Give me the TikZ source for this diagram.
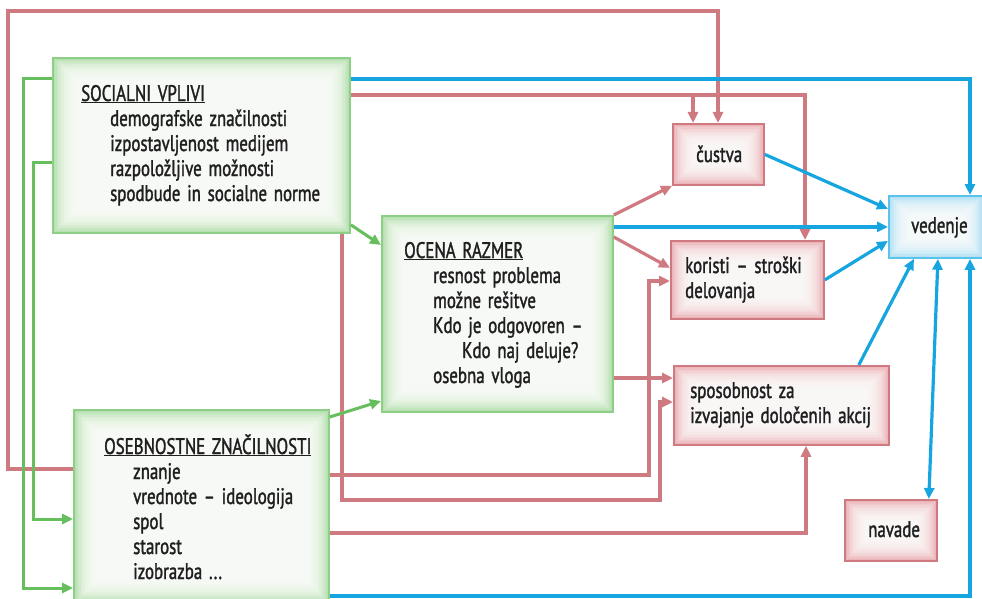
\documentclass[tikz,border=0pt]{standalone}
\usepackage{fontspec}
\setmainfont[FakeStretch=0.75, WordSpace=1.5, FakeBold=1.4]{PT Sans}
\usetikzlibrary{arrows.meta}
\definecolor{grn}{HTML}{66BE5C}
\definecolor{grnbd}{HTML}{8DCF86}
\definecolor{grnfill}{HTML}{A8DB9F}
\definecolor{rd}{HTML}{CF7A81}
\definecolor{rdfill}{HTML}{E8A6AC}
\definecolor{bl}{HTML}{16A5DE}
\definecolor{blbd}{HTML}{5BC2EA}
\definecolor{blfill}{HTML}{A8DDF4}
\pgfdeclarelayer{bg}
\pgfsetlayers{bg,main}
\tikzset{
  boxbase/.style={anchor=north west, inner sep=0pt, line width=1.8pt},
  gbox/.style={boxbase, draw=grnbd},
  rbox/.style={boxbase, draw=rd},
  bbox/.style={boxbase, draw=blbd},
  tip/.style={-{Triangle[length=11pt,width=10pt]}},
  rarr/.style={draw=rd, line width=3.2pt, tip},
  barr/.style={draw=bl, line width=3.2pt, tip},
  garr/.style={draw=grn, line width=3pt, tip},
  txt/.style={inner sep=0pt, align=left, text=black!88, font={\fontsize{22.5pt}{25pt}\selectfont}},
}
\newcommand{\ind}{\hspace*{29pt}}
\begin{document}
\begin{tikzpicture}[x=1pt, y=-1pt]
\useasboundingbox (0,0) rectangle (982,599);

% boxes
\node[gbox, minimum width=297pt, minimum height=175pt] (sv) at (52,57) {};
\node[gbox, minimum width=231pt, minimum height=196pt] (or) at (381,215) {};
\node[gbox, minimum width=255pt, minimum height=193pt] (oz) at (73,409) {};
\node[rbox, minimum width=91pt, minimum height=61pt] (cu) at (672,123) {};
\node[rbox, minimum width=153pt, minimum height=78pt] (ko) at (670,240) {};
\node[rbox, minimum width=215pt, minimum height=79pt] (sp) at (673,365) {};
\node[rbox, minimum width=92pt, minimum height=61pt] (na) at (844,499) {};
\node[bbox, minimum width=94pt, minimum height=62pt] (ve) at (888,195) {};

% soft inner glow of every box
\begin{pgfonlayer}{bg}
\foreach \n/\c in {sv/grnfill, or/grnfill, oz/grnfill, cu/rdfill, ko/rdfill, sp/rdfill, na/rdfill, ve/blfill}{
  \fill[\c] (\n.north west) rectangle (\n.south east);
  \foreach \i in {1,...,15}{
    \fill[white, opacity=0.16]
      ([shift={(\i*1.5pt,-\i*1.5pt)}]\n.north west) rectangle
      ([shift={(-\i*1.5pt,\i*1.5pt)}]\n.south east);
  }
}
\end{pgfonlayer}

% texts (anchored at the baseline of their last line)
\node[txt, anchor=base west] (svt) at (81,201) {\underline{SOCIALNI VPLIVI}\\
  \ind demografske značilnosti\\
  \ind izpostavljenost medijem\\
  \ind razpoložljive možnosti\\
  \ind spodbude in socialne norme};
\node[txt, anchor=base west] (ort) at (404,383) {\underline{OCENA RAZMER}\\
  \ind resnost problema\\
  \ind možne rešitve\\
  \ind Kdo je odgovoren --\\
  \ind\ind Kdo naj deluje?\\
  \ind osebna vloga};
\node[txt, anchor=base west] (ozt) at (104,579) {\underline{OSEBNOSTNE ZNAČILNOSTI}\\
  \ind znanje\\
  \ind vrednote -- ideologija\\
  \ind spol\\
  \ind starost\\
  \ind izobrazba ...};
\node[txt, anchor=base west] (cut) at (696,162) {čustva};
\node[txt, anchor=base west] (kot) at (685,298) {koristi -- stroški\\delovanja};
\node[txt, anchor=base west] (spt) at (690,423) {sposobnost za\\izvajanje določenih akcij};
\node[txt, anchor=base west] (nat) at (868,537) {navade};
\node[txt, anchor=base west] (vet) at (911,233) {vedenje};

% turning points
\coordinate (r1a) at (8,469);  \coordinate (r1b) at (718,11);
\coordinate (r2) at (805,95);  \coordinate (r2b) at (693,95);
\coordinate (r3a) at (342,500); \coordinate (r3b) at (660,402);
\coordinate (r4a) at (649,475); \coordinate (r4b) at (649,281);
\coordinate (r5) at (806,533);
\coordinate (r8) at (640,378);
\coordinate (b1) at (970,79);
\coordinate (b7) at (970,596);
\coordinate (g1a) at (23,79);  \coordinate (g1b) at (23,588);
\coordinate (g2a) at (33,162); \coordinate (g2b) at (33,519);
\coordinate (g3) at (381,245);
\coordinate (g4) at (381,401);

% red connectors
\draw[rarr] (oz.west |- r1a) -- (r1a) |- (r1b) -- (cu.north -| r1b);
\draw[rarr] (sv.east |- r2) -- (r2) -- (ko.north -| r2);
\draw[rarr] (r2b) -- (cu.north -| r2b);
\draw[rarr] (sv.south -| r3a) -- (r3a) -| (r3b) -- (sp.west |- r3b);
\draw[rarr] (oz.east |- r4a) -- (r4a) -- (r4b) -- (ko.west |- r4b);
\draw[rarr] (oz.east |- r5) -- (r5) -- (sp.south -| r5);
\draw[rarr] (or.north east) -- (cu.south west);
\draw[rarr] ([yshift=-22pt]or.north east) -- ([yshift=12pt]ko.west);
\draw[rarr] (or.east |- r8) -- (sp.west |- r8);

% blue connectors
\draw[barr] (sv.east |- b1) -- (b1) -- (ve.north -| b1);
\draw[barr] (cu.east) -- ([yshift=18pt]ve.west);
\draw[barr] (or.east |- ve.west) -- (ve.west);
\draw[barr] (ko.east) -- ([yshift=-14pt]ve.west);
\draw[barr] ([xshift=-31pt]sp.north east) -- ([xshift=-22pt]ve.south);
\draw[barr, {Triangle[length=11pt,width=10pt]}-{Triangle[length=11pt,width=10pt]}] ([xshift=-9pt]na.north east) -- ([xshift=2pt]ve.south);
\draw[barr] (oz.east |- b7) -- (b7) -- (ve.south -| b7);

% green connectors
\draw[garr] (sv.west |- g1a) -- (g1a) -- (g1b) -- (oz.west |- g1b);
\draw[garr] (sv.west |- g2a) -- (g2a) -- (g2b) -- (oz.west |- g2b);
\draw[garr] ([yshift=9pt]sv.south east) -- (or.west |- g3);
\draw[garr] ([yshift=-8pt]oz.north east) -- (or.west |- g4);
\end{tikzpicture}
\end{document}
